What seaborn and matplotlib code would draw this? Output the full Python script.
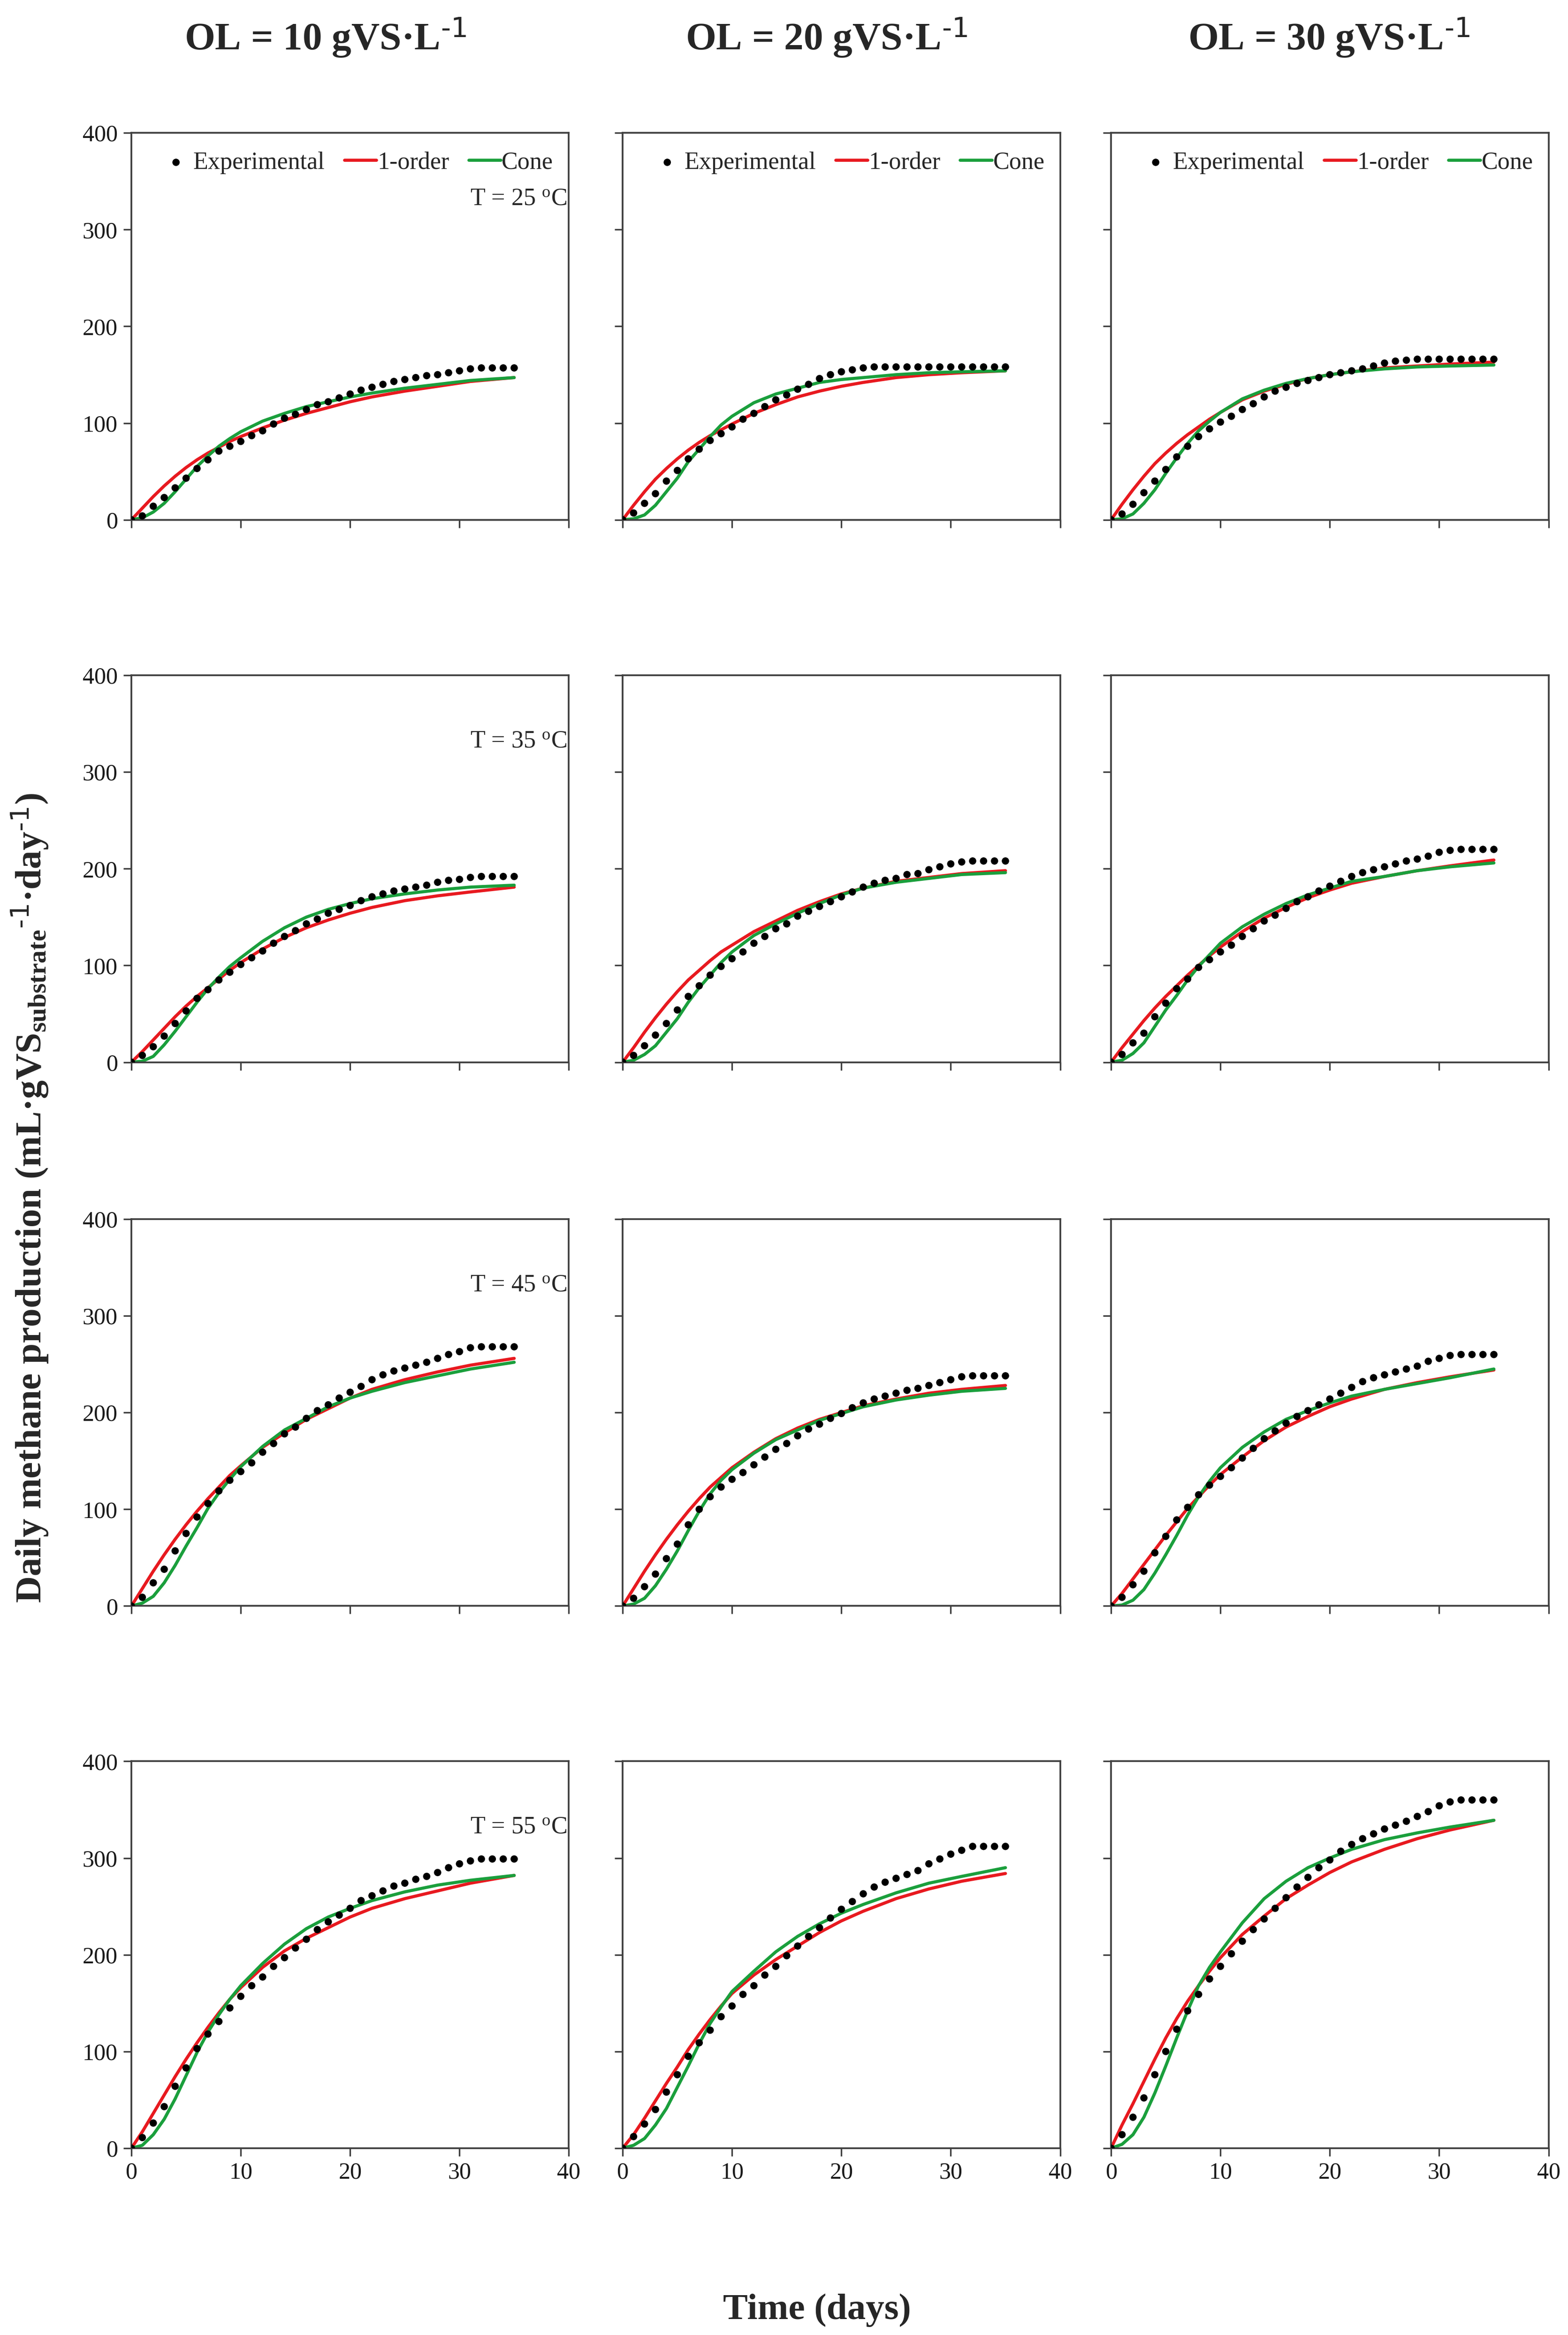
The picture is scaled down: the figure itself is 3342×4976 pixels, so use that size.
import numpy as np
import pandas as pd
import seaborn as sns
import matplotlib.pyplot as plt

# sampling days
days = list(range(36))
fit_days = [0, 1, 2, 3, 4, 5, 6, 7, 8, 9, 10, 12, 14, 16, 18, 20, 22, 25, 28, 31, 35]

ol_titles = ["OL = 10 gVS·L$^{\\text{-1}}$", "OL = 20 gVS·L$^{\\text{-1}}$", "OL = 30 gVS·L$^{\\text{-1}}$"]
temps = [25, 35, 45, 55]

# experimental points, one list per organic load (10, 20, 30)
exp_25 = [
    [0, 4, 14, 23, 33, 43, 53, 62, 71, 76, 81, 87, 92, 99, 105, 109, 114, 119, 122, 126, 130,
     134, 137, 140, 143, 145, 147, 149, 150, 152, 154, 156, 157, 157, 157, 157],
    [0, 7, 17, 27, 40, 51, 63, 73, 82, 89, 96, 104, 110, 117, 124, 129, 135, 140, 146, 150, 153,
     155, 157, 158, 158, 158, 158, 158, 158, 158, 158, 158, 158, 158, 158, 158],
    [0, 6, 16, 28, 40, 52, 65, 76, 86, 94, 101, 107, 114, 120, 127, 133, 137, 141, 144, 147, 150,
     152, 154, 156, 159, 162, 164, 165, 166, 166, 166, 166, 166, 166, 166, 166],
]
exp_35 = [
    [0, 7, 16, 27, 40, 53, 66, 75, 85, 93, 101, 108, 115, 123, 130, 136, 143, 148, 154, 158, 162,
     167, 171, 174, 177, 179, 181, 183, 186, 188, 189, 191, 192, 192, 192, 192],
    [0, 7, 17, 28, 40, 54, 68, 79, 90, 99, 107, 114, 123, 130, 138, 143, 151, 156, 161, 166, 171,
     176, 181, 185, 188, 190, 194, 195, 199, 202, 205, 207, 208, 208, 208, 208],
    [0, 8, 20, 30, 47, 61, 76, 86, 98, 106, 114, 121, 130, 138, 146, 152, 159, 166, 171, 177, 182,
     187, 192, 196, 199, 202, 205, 208, 210, 213, 217, 219, 220, 220, 220, 220],
]
exp_45 = [
    [0, 9, 24, 38, 57, 75, 92, 106, 119, 130, 139, 148, 159, 168, 178, 185, 194, 202, 208, 215, 221,
     227, 234, 239, 243, 246, 249, 252, 256, 260, 263, 267, 268, 268, 268, 268],
    [0, 8, 20, 33, 49, 64, 84, 100, 113, 123, 131, 138, 146, 154, 162, 168, 176, 183, 188, 194, 199,
     205, 210, 214, 217, 220, 223, 225, 228, 231, 234, 237, 238, 238, 238, 238],
    [0, 9, 22, 36, 55, 72, 89, 102, 115, 125, 134, 143, 153, 163, 173, 181, 189, 196, 202, 208, 214,
     220, 226, 232, 236, 239, 242, 245, 248, 253, 256, 259, 260, 260, 260, 260],
]
exp_55 = [
    [0, 11, 26, 43, 64, 83, 103, 118, 131, 145, 157, 168, 177, 188, 197, 207, 216, 226, 234, 241, 248,
     256, 261, 266, 271, 274, 278, 281, 285, 290, 294, 297, 299, 299, 299, 299],
    [0, 12, 25, 40, 58, 76, 95, 109, 122, 136, 147, 159, 168, 179, 188, 199, 209, 219, 228, 238, 247,
     255, 263, 270, 275, 279, 283, 287, 294, 299, 304, 308, 312, 312, 312, 312],
    [0, 14, 32, 52, 76, 100, 123, 142, 159, 175, 188, 201, 214, 226, 237, 248, 259, 270, 280, 290, 298,
     307, 314, 320, 325, 330, 334, 338, 343, 348, 354, 358, 360, 360, 360, 360],
]

# first-order model curves (values at fit_days)
first_25 = [
    [0, 12, 24, 35, 45, 54, 62, 69, 75, 81, 86, 95, 103, 110, 116, 122, 127, 133, 138, 143, 147],
    [0, 15, 29, 42, 53, 63, 72, 80, 87, 93, 99, 110, 119, 127, 133, 138, 142, 147, 150, 152, 154],
    [0, 16, 31, 45, 58, 69, 79, 88, 96, 104, 111, 124, 133, 140, 146, 150, 153, 157, 159, 161, 163],
]
first_35 = [
    [0, 11, 23, 35, 47, 58, 68, 77, 86, 95, 103, 117, 129, 139, 147, 154, 160, 167, 172, 176, 181],
    [0, 15, 31, 46, 60, 73, 85, 95, 105, 114, 121, 135, 146, 157, 166, 174, 180, 187, 191, 195, 198],
    [0, 15, 29, 43, 56, 68, 79, 90, 100, 110, 119, 135, 149, 160, 170, 178, 185, 192, 198, 203, 209],
]
first_45 = [
    [0, 18, 36, 53, 69, 84, 98, 111, 123, 135, 145, 164, 179, 193, 204, 215, 224, 234, 242, 249, 256],
    [0, 18, 36, 53, 69, 84, 98, 111, 123, 133, 143, 159, 173, 184, 193, 200, 207, 214, 220, 224, 228],
    [0, 13, 28, 43, 58, 73, 87, 101, 113, 125, 136, 154, 171, 185, 196, 206, 214, 224, 231, 237, 244],
]
first_55 = [
    [0, 17, 36, 55, 74, 92, 109, 125, 140, 154, 166, 187, 204, 217, 228, 239, 248, 258, 266, 274, 282],
    [0, 14, 31, 49, 67, 84, 102, 118, 133, 147, 160, 179, 195, 209, 223, 235, 245, 258, 268, 276, 284],
    [0, 24, 46, 69, 92, 114, 134, 152, 168, 183, 197, 221, 240, 258, 272, 285, 296, 309, 320, 329, 339],
]

# cone model curves (values at fit_days)
cone_25 = [
    [0, 2, 8, 17, 29, 42, 55, 66, 76, 84, 91, 102, 110, 117, 122, 127, 131, 136, 140, 144, 147],
    [0, 1, 5, 15, 29, 43, 60, 73, 86, 98, 107, 121, 130, 136, 142, 145, 147, 150, 152, 153, 154],
    [0, 1, 6, 17, 31, 48, 64, 79, 92, 102, 111, 125, 134, 141, 146, 150, 153, 156, 158, 159, 160],
]
cone_35 = [
    [0, 1, 6, 18, 32, 47, 62, 76, 88, 99, 108, 125, 139, 150, 158, 164, 169, 174, 178, 181, 183],
    [0, 2, 8, 17, 31, 45, 62, 77, 90, 103, 114, 131, 143, 154, 164, 173, 180, 186, 190, 194, 196],
    [0, 2, 9, 20, 37, 54, 69, 85, 99, 111, 123, 140, 153, 164, 173, 180, 187, 192, 198, 202, 206],
]
cone_45 = [
    [0, 3, 10, 24, 42, 62, 81, 101, 117, 131, 144, 165, 182, 194, 206, 215, 222, 231, 238, 245, 252],
    [0, 2, 8, 21, 38, 57, 78, 98, 116, 130, 141, 158, 172, 182, 192, 199, 206, 213, 218, 222, 225],
    [0, 1, 6, 17, 34, 53, 73, 94, 113, 129, 143, 164, 180, 193, 202, 210, 217, 224, 230, 236, 245],
]
cone_55 = [
    [0, 3, 14, 30, 51, 75, 99, 120, 138, 154, 168, 191, 211, 227, 239, 248, 256, 265, 272, 277, 282],
    [0, 3, 10, 24, 41, 63, 85, 108, 129, 146, 162, 183, 203, 219, 232, 243, 252, 264, 274, 281, 290],
    [0, 4, 14, 32, 57, 85, 114, 142, 168, 187, 203, 233, 258, 276, 290, 300, 309, 319, 326, 332, 339],
]

exp_all = [exp_25, exp_35, exp_45, exp_55]
first_all = [first_25, first_35, first_45, first_55]
cone_all = [cone_25, cone_35, cone_45, cone_55]

RED = "#e8191f"
GREEN = "#1a9f3c"
SPINE = "#404040"

sns.set_theme(style="ticks")
plt.rcParams["font.family"] = ["Liberation Serif", "DejaVu Serif"]
plt.rcParams["mathtext.default"] = "regular"

fig = plt.figure(figsize=(3342 / 300, 4976 / 300), dpi=300)

col_left = [0.0838, 0.3971, 0.7086]
row_bottom = [0.7774, 0.5451, 0.3122, 0.0800]
ax_w, ax_h = 0.279, 0.1657

for r, temp in enumerate(temps):
    for c in range(3):
        ax = fig.add_axes([col_left[c], row_bottom[r], ax_w, ax_h])
        sns.lineplot(x=fit_days, y=first_all[r][c], ax=ax, color=RED, linewidth=1.6,
                     label="1-order", zorder=2)
        sns.lineplot(x=fit_days, y=cone_all[r][c], ax=ax, color=GREEN, linewidth=1.6,
                     label="Cone", zorder=2)
        sns.scatterplot(x=days, y=exp_all[r][c], ax=ax, color="black", s=14,
                        edgecolor="none", label="Experimental", zorder=3)

        ax.set_xlim(0, 40)
        ax.set_ylim(0, 400)
        ax.set_xticks([0, 10, 20, 30, 40])
        ax.set_yticks([0, 100, 200, 300, 400])
        ax.tick_params(direction="out", length=4, width=0.8, color=SPINE,
                       labelsize=12, pad=3, labelcolor="#1a1a1a")
        if c != 0:
            ax.set_yticklabels([])
        if r != 3:
            ax.set_xticklabels([])
        for sp in ax.spines.values():
            sp.set_visible(True)
            sp.set_color(SPINE)
            sp.set_linewidth(0.9)
        ax.set_xlabel("")
        ax.set_ylabel("")

        handles, labels = ax.get_legend_handles_labels()
        if r == 0:
            order = [labels.index(k) for k in ["Experimental", "1-order", "Cone"]]
            ax.legend([handles[i] for i in order], [labels[i] for i in order],
                      loc="center", bbox_to_anchor=(0.515, 0.923), ncol=3, frameon=False,
                      fontsize=12.5, handlelength=1.3, handletextpad=0.05,
                      columnspacing=0.8, scatterpoints=1, borderaxespad=0)
        else:
            ax.get_legend().remove()

        if c == 0:
            ax.text(0.995, 0.83, "T = %d $^{o}$C" % temp, transform=ax.transAxes,
                    ha="right", va="center", fontsize=12.5)

for c, title in enumerate(ol_titles):
    fig.text([0.2076, 0.527, 0.8476][c], 0.984, title, ha="center", va="center",
             fontsize=20, fontweight="bold")

fig.text(0.521, 0.0105, "Time (days)", ha="center", va="center", fontsize=19,
         fontweight="bold")
fig.text(0.019, 0.487,
         "Daily methane production (mL·gVS$_{substrate}$$^{\\text{-1}}$·day$^{\\text{-1}}$)",
         rotation=90, ha="center", va="center", fontsize=19, fontweight="bold")

fig.savefig("out.png", dpi=300, facecolor="white")
